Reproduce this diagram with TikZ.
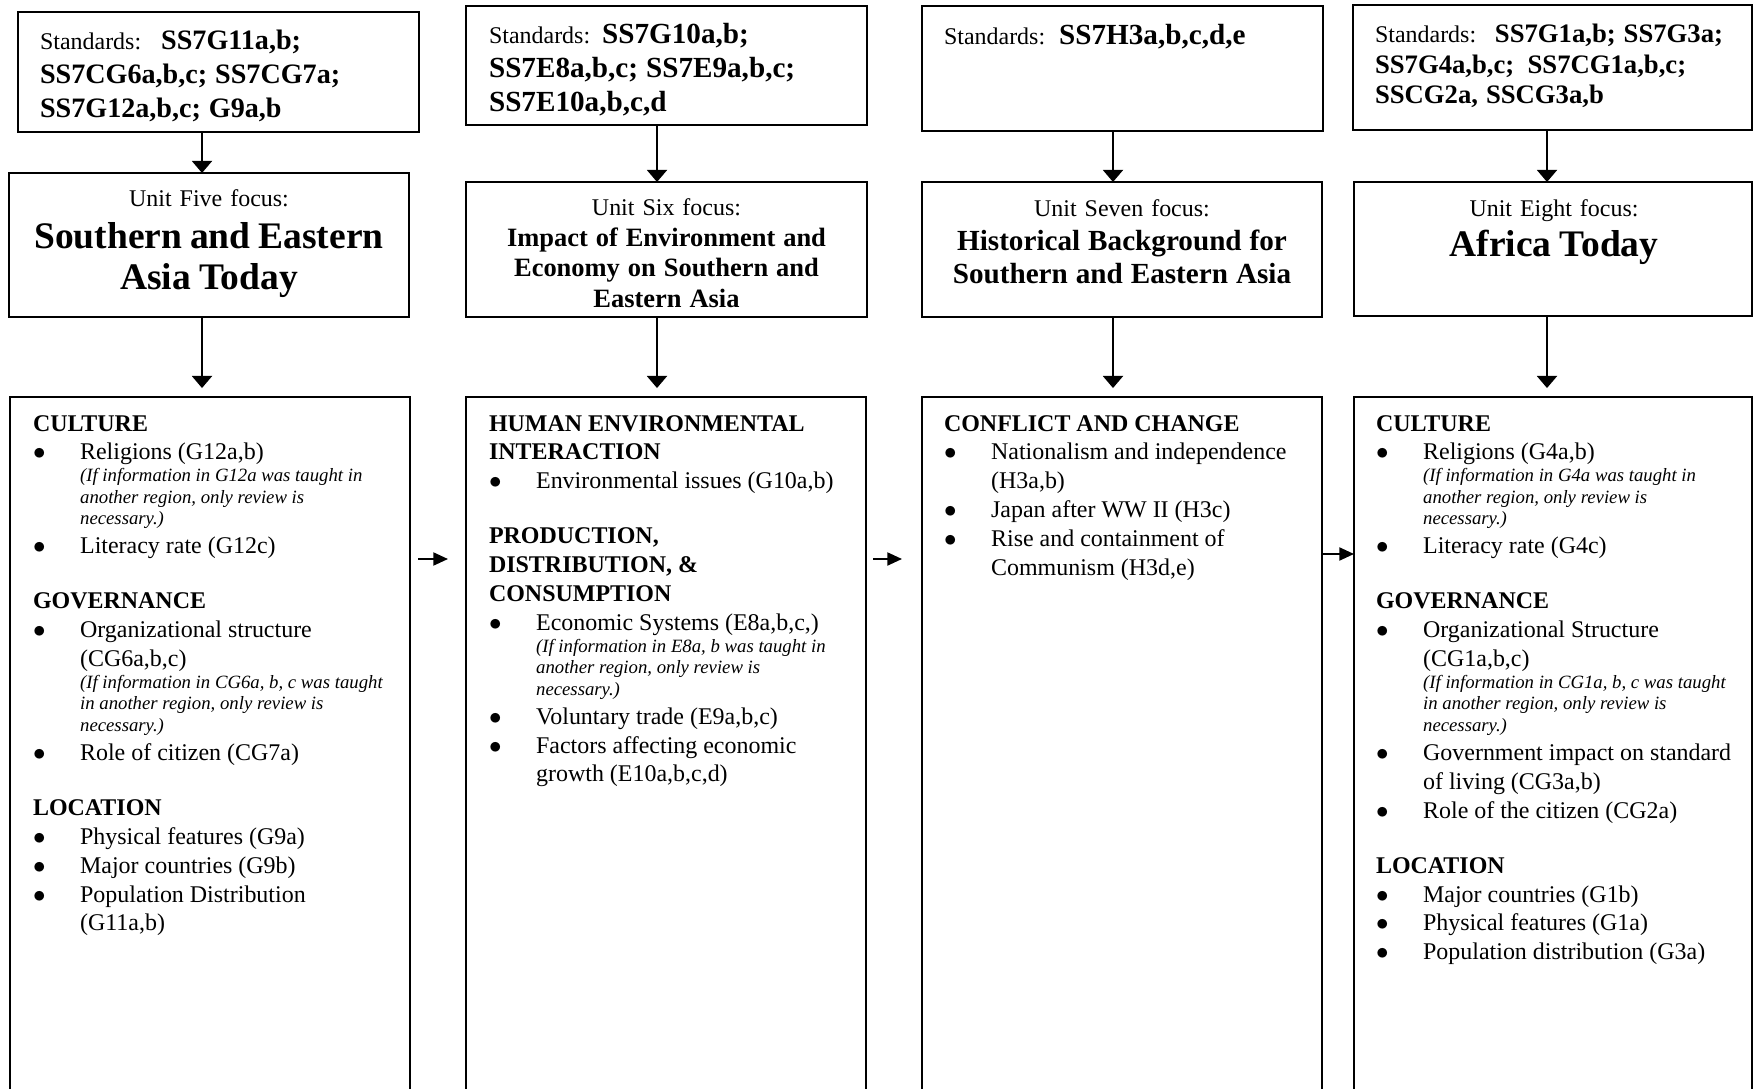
\documentclass[tikz,border=0pt]{standalone}
\usepackage{fontspec}
\setmainfont{Liberation Serif}
\usetikzlibrary{arrows.meta}

\newlength{\bulind}
\setlength{\bulind}{22.6pt}
\newcommand{\bodyfont}{\fontsize{11.5}{13.85}\selectfont}
\newcommand{\plainspaces}{\spaceskip=0pt\xspaceskip=0pt\relax}
\newcommand{\sechead}[1]{{\bfseries #1}\par}
\newcommand{\bitem}[1]{\hangindent=\bulind\hangafter=1\makebox[\bulind][l]{$\bullet$}#1\par}
\newcommand{\bnote}[1]{{\hangindent=\bulind\hangafter=0\fontsize{9}{10.4}\selectfont\itshape #1\par}}
\newcommand{\secgap}{\vskip 12.6pt}
\newcommand{\stdcode}[2]{\bfseries\fontsize{#1}{#2}\selectfont}
\newcommand{\unittitle}[2]{\bfseries\fontsize{#1}{#2}\selectfont}

\tikzset{every picture/.style={line width=1pt}}
\tikzset{
  box/.style 2 args={draw, rectangle, inner sep=0pt, outer sep=0pt,
    minimum width=#1*0.48pt, minimum height=#2*0.48pt},
  stdtxt/.style={anchor=base west, align=left, text width=180pt, inner sep=0pt, font=\bodyfont},
  focustxt/.style={anchor=base, align=center, text width=186pt, inner sep=0pt, font=\bodyfont},
  bodytxt/.style={anchor=base west, align=left, text width=180pt, inner sep=0pt, font=\bodyfont},
  varr/.style={-{Triangle[width=9.6pt,length=5.8pt]}},
  harr/.style={-{Triangle[width=6.2pt,length=7pt]}}
}

\begin{document}
\begin{tikzpicture}[x=0.48pt,y=0.48pt,yscale=-1,xscale=1]
\useasboundingbox (0,0) rectangle (1754,1089);
\clip (0,0) rectangle (1754,1089);

%Shape: Standards boxes
\node[box={401}{120}] (std1) at (218.5,72) {};
\node[box={401}{119}] (std2) at (666.5,65.5) {};
\node[box={401}{125}] (std3) at (1122.5,68.5) {};
\node[box={399}{125}] (std4) at (1552.5,67.5) {};
%Shape: Focus boxes
\node[box={400}{144}] (focus1) at (209,245) {};
\node[box={401}{135}] (focus2) at (666.5,249.5) {};
\node[box={400}{135}] (focus3) at (1122,249.5) {};
\node[box={398}{134}] (focus4) at (1553,249) {};
%Shape: Content boxes (run past the page foot)
\node[box={400}{733}] (bot1) at (210,763.5) {};
\node[box={400}{733}] (bot2) at (666,763.5) {};
\node[box={400}{733}] (bot3) at (1122,763.5) {};
\node[box={398}{733}] (bot4) at (1553,763.5) {};

%Straight Lines: vertical arrows
\coordinate (c1) at (202,0);
\coordinate (c2) at (657,0);
\coordinate (c3) at (1113,0);
\coordinate (c4) at (1547,0);
\foreach \i in {1,...,4}{
  \draw[varr] (std\i.south -| c\i) -- (focus\i.north -| c\i);
  \draw[varr, shorten >=4.3pt] (focus\i.south -| c\i) -- (bot\i.north -| c\i);
}
%Straight Lines: horizontal arrows
\coordinate (h1s) at (418,559);
\coordinate (h1e) at (448,559);
\coordinate (h2s) at (873,559);
\coordinate (h2e) at (902,559);
\coordinate (h3) at (0,554);
\draw[harr] (h1s) -- (h1e);
\draw[harr] (h2s) -- (h2e);
\draw[harr] (bot3.east |- h3) -- (bot4.west |- h3);

% Text Node
\node[stdtxt] (stdtxt1) at (39,50) {Standards:\hspace{9.6pt}\stdcode{13.5}{16.1}SS7G11a,b;\par
  SS7CG6a,b,c; SS7CG7a;\par SS7G12a,b,c; G9a,b\par};
% Text Node
\node[stdtxt] (stdtxt2) at (488,44) {Standards: \stdcode{14}{16.3}SS7G10a,b;\par
  SS7E8a,b,c; SS7E9a,b,c;\par SS7E10a,b,c,d\par};
% Text Node
\node[stdtxt] (stdtxt3) at (943,45) {Standards:\hspace{6.7pt}\stdcode{14}{16.3}SS7H3a,b,c,d,e\par};
% Text Node
\node[stdtxt] (stdtxt4) at (1374,43) {Standards:\hspace{9pt}\stdcode{12.8}{14.6}SS7G1a,b; SS7G3a;\par
  SS7G4a,b,c;\hspace{6.4pt}SS7CG1a,b,c;\par SSCG2a, SSCG3a,b\par};

% Text Node
\node[focustxt] (ftxt1) at (209,207) {Unit Five focus:\par
  \unittitle{18}{19.8}Southern and Eastern\par Asia Today\par};
% Text Node
\node[focustxt] (ftxt2) at (666.5,216) {Unit Six focus:\par
  \unittitle{12.7}{14.6}Impact of Environment and\par Economy on Southern and\par Eastern Asia\par};
% Text Node
\node[focustxt] (ftxt3) at (1122,217) {Unit Seven focus:\par
  \unittitle{14}{16}Historical Background for\par Southern and Eastern Asia\par};
% Text Node
\node[focustxt] (ftxt4) at (1554,217) {Unit Eight focus:\par
  \unittitle{18}{19.2}Africa Today\par};

% Text Node
\node[bodytxt] (btxt1) at (32,431) {\plainspaces
  \sechead{CULTURE}
  \bitem{Religions (G12a,b)}
  \bnote{(If information in G12a was taught in\newline another region, only review is\newline necessary.)}
  \bitem{Literacy rate (G12c)}
  \secgap
  \sechead{GOVERNANCE}
  \bitem{Organizational structure\newline (CG6a,b,c)}
  \bnote{(If information in CG6a, b, c was taught\newline in another region, only review is\newline necessary.)}
  \bitem{Role of citizen (CG7a)}
  \secgap
  \sechead{LOCATION}
  \bitem{Physical features (G9a)}
  \bitem{Major countries (G9b)}
  \bitem{Population Distribution\newline (G11a,b)}};
% Text Node
\node[bodytxt] (btxt2) at (488,431) {\plainspaces
  \sechead{HUMAN ENVIRONMENTAL\newline INTERACTION}
  \bitem{Environmental issues (G10a,b)}
  \secgap
  \sechead{PRODUCTION,\newline DISTRIBUTION, \&\newline CONSUMPTION}
  \bitem{Economic Systems (E8a,b,c,)}
  \bnote{(If information in E8a, b was taught in\newline another region, only review is\newline necessary.)}
  \bitem{Voluntary trade (E9a,b,c)}
  \bitem{Factors affecting economic\newline growth (E10a,b,c,d)}};
% Text Node
\node[bodytxt] (btxt3) at (943,431) {\plainspaces
  \sechead{CONFLICT AND CHANGE}
  \bitem{Nationalism and independence\newline (H3a,b)}
  \bitem{Japan after WW II (H3c)}
  \bitem{Rise and containment of\newline Communism (H3d,e)}};
% Text Node
\node[bodytxt] (btxt4) at (1375,431) {\plainspaces
  \sechead{CULTURE}
  \bitem{Religions (G4a,b)}
  \bnote{(If information in G4a was taught in\newline another region, only review is\newline necessary.)}
  \bitem{Literacy rate (G4c)}
  \secgap
  \sechead{GOVERNANCE}
  \bitem{Organizational Structure\newline (CG1a,b,c)}
  \bnote{(If information in CG1a, b, c was taught\newline in another region, only review is\newline necessary.)}
  \bitem{Government impact on standard\newline of living (CG3a,b)}
  \bitem{Role of the citizen (CG2a)}
  \secgap
  \sechead{LOCATION}
  \bitem{Major countries (G1b)}
  \bitem{Physical features (G1a)}
  \bitem{Population distribution (G3a)}};

\end{tikzpicture}
\end{document}
